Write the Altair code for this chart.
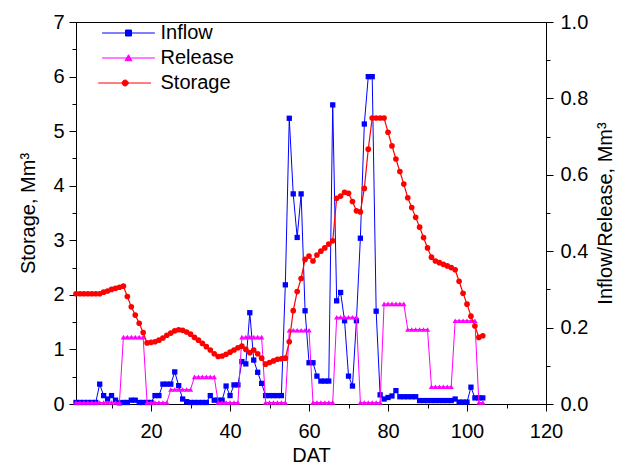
import altair as alt
import pandas as pd

dat = list(range(1, 105))

storage = [2.02, 2.02, 2.02, 2.02, 2.02, 2.02, 2.02,
           2.05, 2.07, 2.10, 2.12, 2.14, 2.16,
           1.97, 1.78, 1.63, 1.48, 1.31, 1.12,
           1.13, 1.14, 1.17, 1.21, 1.26, 1.30, 1.34, 1.36,
           1.35, 1.32, 1.28, 1.22, 1.17, 1.11, 1.05, 0.99, 0.92, 0.87,
           0.88, 0.91, 0.95, 0.99, 1.03, 1.06,
           1.00, 0.94, 0.99, 0.92, 0.84,
           0.73, 0.76, 0.79, 0.82, 0.83, 0.84,
           1.14, 1.71, 2.06, 2.30, 2.65, 2.71, 2.62, 2.73, 2.80, 2.86, 2.93, 2.99,
           3.77, 3.81, 3.88, 3.86, 3.71, 3.54, 3.52, 3.95,
           4.67, 5.24, 5.24, 5.24, 5.24,
           4.98, 4.73, 4.49, 4.26, 4.03, 3.78, 3.60, 3.42, 3.24, 3.05, 2.86, 2.69,
           2.62, 2.59, 2.56, 2.53, 2.50, 2.46,
           2.25, 2.03, 1.83, 1.61, 1.43, 1.22, 1.25]

inflow = [0.004, 0.004, 0.004, 0.004, 0.004, 0.004,
          0.052,
          0.022, 0.013, 0.022, 0.010, 0.003,
          0.004, 0.004, 0.010, 0.010, 0.004, 0.004, 0.004, 0.004,
          0.022, 0.022,
          0.052, 0.052, 0.052,
          0.084, 0.048, 0.013, 0.006,
          0.004, 0.004, 0.004, 0.004, 0.004,
          0.022,
          0.010, 0.010, 0.010,
          0.047, 0.022, 0.050, 0.050,
          0.111, 0.105, 0.239, 0.115, 0.083, 0.054,
          0.022, 0.022, 0.022, 0.022, 0.022,
          0.312, 0.748, 0.550, 0.436, 0.550, 0.244, 0.108, 0.108, 0.073,
          0.060, 0.060, 0.060,
          0.783, 0.270, 0.292, 0.218, 0.073, 0.047, 0.218, 0.434, 0.733, 0.857, 0.857, 0.243, 0.024,
          0.013, 0.017, 0.021, 0.035,
          0.019, 0.019, 0.019, 0.019, 0.019,
          0.009, 0.009, 0.009, 0.009, 0.009, 0.009, 0.009, 0.009, 0.009,
          0.013,
          0.005, 0.005, 0.005,
          0.044,
          0.016, 0.016, 0.016]

release = ([0.004] * 12 + [0.175] * 6 + [0.004] * 6 + [0.038] * 6 + [0.071] * 6
           + [0.004] * 6 + [0.175] * 6 + [0.004] * 6 + [0.193] * 6 + [0.004] * 6
           + [0.227] * 6 + [0.004] * 6 + [0.262] * 6 + [0.195] * 6 + [0.045] * 6
           + [0.218] * 6 + [0.004] * 2)

series_names = ["Inflow", "Release", "Storage"]
series_colors = ["#0000FF", "#FF00FF", "#FF0000"]
legend_shapes = [
    "M-8.8,0L8.8,0M-1,-1L1,-1L1,1L-1,1Z",
    "M-8.8,0L8.8,0M0,-1.1L1.15,0.9L-1.15,0.9Z",
    "M-10.1,0L7.5,0M-2.1,0A1,1,0,1,1,-0.1,0A1,1,0,1,1,-2.1,0Z",
]

x_ticks = list(range(10, 121, 10))
left_ticks = [i * 0.5 for i in range(15)]
right_ticks = [round(i * 0.1, 1) for i in range(11)]

df = pd.DataFrame({"DAT": dat, "Storage": storage, "Inflow": inflow, "Release": release})
legend_df = pd.DataFrame({"series": series_names})

FONT = "Liberation Sans"

x_enc = alt.X(
    "DAT:Q",
    scale=alt.Scale(domain=[1, 120], nice=False, zero=False),
    axis=alt.Axis(
        title="DAT",
        values=x_ticks,
        format="d",
        labelExpr="datum.value % 20 === 0 ? datum.label : ''",
        tickSize={"condition": {"test": "datum.value % 20 !== 0", "value": 4}, "value": 7},
        labelPadding=10,
        titlePadding=4,
        labelFlush=False,
    ),
)

base = alt.Chart(df)

inflow_layer = base.mark_line(
    color="#0000FF", strokeWidth=1,
    point=alt.OverlayMarkDef(shape="square", size=28, filled=True, color="#0000FF"),
).encode(
    x=x_enc,
    y=alt.Y(
        "Inflow:Q",
        scale=alt.Scale(domain=[0, 1], nice=False),
        axis=alt.Axis(
            orient="right",
            title="Inflow/Release, Mm³",
            values=right_ticks,
            format=".1f",
            labelExpr="round(datum.value * 10) % 2 === 0 ? datum.label : ''",
            tickSize={"condition": {"test": "round(datum.value * 10) % 2 !== 0", "value": 4}, "value": 7},
            labelPadding=7,
            titlePadding=8,
            titleAngle=270,
            titleBaseline="top",
            labelFlush=False,
        ),
    ),
)

release_layer = base.mark_line(
    color="#FF00FF", strokeWidth=1,
    point=alt.OverlayMarkDef(shape="triangle-up", size=28, filled=True, color="#FF00FF"),
).encode(
    x=x_enc,
    y=alt.Y("Release:Q", scale=alt.Scale(domain=[0, 1], nice=False), axis=None),
)

storage_layer = base.mark_line(
    color="#FF0000", strokeWidth=1.2,
    point=alt.OverlayMarkDef(shape="circle", size=32, filled=True, color="#FF0000"),
).encode(
    x=x_enc,
    y=alt.Y(
        "Storage:Q",
        scale=alt.Scale(domain=[0, 7], nice=False),
        axis=alt.Axis(
            orient="left",
            title="Storage, Mm³",
            values=left_ticks,
            format=".0f",
            labelExpr="datum.value % 1 === 0 ? datum.label : ''",
            tickSize={"condition": {"test": "datum.value % 1 !== 0", "value": 4}, "value": 7},
            labelPadding=5,
            titlePadding=14,
            labelFlush=False,
        ),
    ),
)

leg = alt.Legend(
    title=None, orient="none", legendX=42.5, legendY=1,
    labelFont=FONT, labelFontSize=20, labelColor="black",
    symbolSize=36, symbolOpacity=1, symbolStrokeWidth=1,
    labelOffset=22, rowPadding=5, padding=0,
)

legend_layer = alt.Chart(legend_df).mark_point(opacity=0, strokeWidth=1).encode(
    fill=alt.Fill("series:N", scale=alt.Scale(domain=series_names, range=series_colors), legend=leg),
    stroke=alt.Stroke("series:N", scale=alt.Scale(domain=series_names, range=series_colors), legend=leg),
    shape=alt.Shape("series:N", scale=alt.Scale(domain=series_names, range=legend_shapes), legend=leg),
)

chart = alt.layer(inflow_layer, release_layer, storage_layer, legend_layer).resolve_scale(
    y="independent"
).properties(
    width=470, height=382,
    autosize=alt.AutoSizeParams(type="none"),
    padding={"left": 68, "top": 14, "right": 70, "bottom": 60},
).configure_view(
    stroke="black", strokeWidth=1,
).configure_axis(
    grid=False,
    domainColor="black", domainWidth=1,
    tickColor="black", tickWidth=1,
    labelFont=FONT, labelFontSize=20, labelColor="black",
    titleFont=FONT, titleFontSize=20, titleFontWeight="normal", titleColor="black",
)

chart.save("out.html", embed_options={"renderer": "svg", "actions": False})
